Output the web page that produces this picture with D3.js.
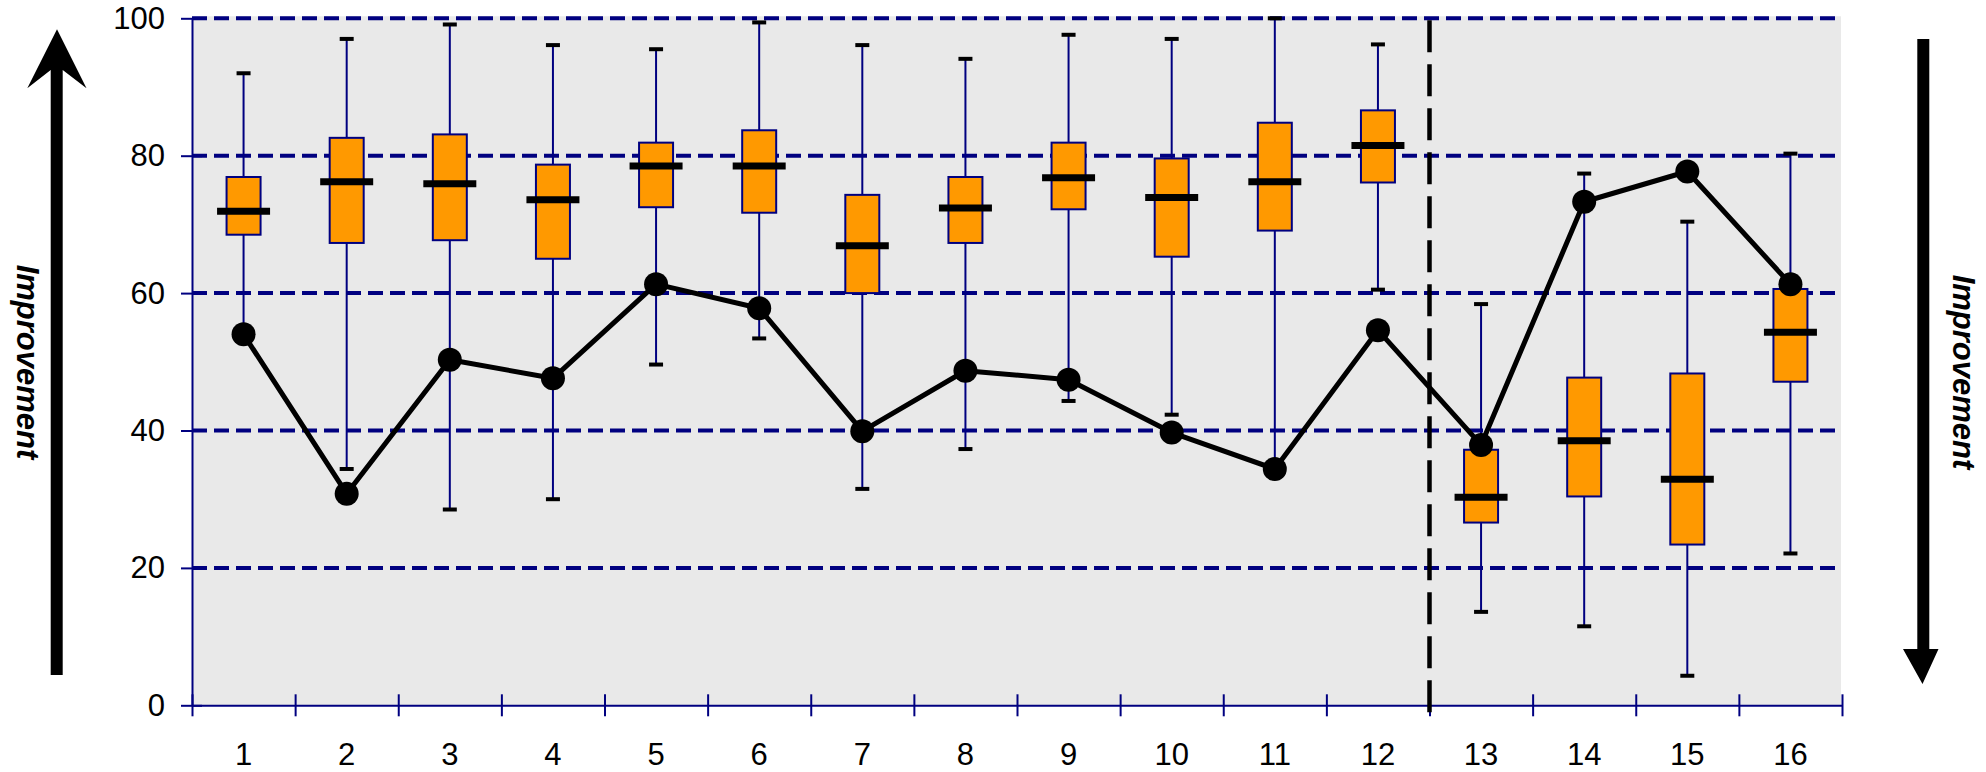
<!DOCTYPE html>
<html>
<head>
<meta charset="utf-8">
<script src="https://cdn.jsdelivr.net/npm/d3@7"></script>
<style>
  html, body { margin: 0; padding: 0; background: #ffffff; }
  svg { display: block; }
  text { font-family: "Liberation Sans", Arial, sans-serif; fill: #000000; }
</style>
</head>
<body>
<svg id="chart" width="1986" height="772"></svg>
<script>
// Groups along the x axis
const categories = ["1","2","3","4","5","6","7","8","9","10","11","12","13","14","15","16"];
// Box-plot statistics per group
const whiskerHigh = [92.0, 97.0, 99.1, 96.1, 95.5, 99.4, 96.1, 94.1, 97.6, 97.0, 100.0, 96.2, 58.4, 77.4, 70.4, 80.3];
const upperQuartile = [76.9, 82.6, 83.1, 78.7, 81.9, 83.7, 74.3, 76.9, 81.9, 79.6, 84.8, 86.6, 37.2, 47.7, 48.3, 60.6];
const medians = [71.9, 76.2, 75.9, 73.6, 78.5, 78.5, 66.9, 72.4, 76.8, 73.9, 76.2, 81.5, 30.3, 38.5, 32.9, 54.3];
const lowerQuartile = [68.5, 67.3, 67.7, 65.0, 72.5, 71.7, 60.0, 67.3, 72.2, 65.3, 69.1, 76.1, 26.6, 30.4, 23.4, 47.1];
const whiskerLow = [54.0, 34.4, 28.5, 30.0, 49.6, 53.4, 31.5, 37.3, 44.3, 42.3, 33.5, 60.5, 13.6, 11.5, 4.3, 22.1];
// Single observed value per group, joined by a line
const observed = [54.0, 30.8, 50.3, 47.6, 61.3, 57.8, 39.9, 48.7, 47.4, 39.7, 34.4, 54.6, 37.9, 73.3, 77.7, 61.3];
// Axis ticks
const yTicks = [0, 20, 40, 60, 80, 100];
// Index of the group boundary where the split line goes
const splitAfter = 12;

const NAVY = "#000080";
const ORANGE = "#FF9900";

const svg = d3.select("#chart");
const plotLeft = 192, plotRight = 1842, plotTop = 18.3, plotBottom = 705.3;

const x = d3.scaleBand().domain(categories).range([plotLeft, plotRight]).padding(0);
const xEdge = d3.scaleLinear().domain([0, categories.length]).range([plotLeft, plotRight]);
const y = d3.scaleLinear().domain([0, 100]).range([plotBottom, plotTop]);
const cx = c => x(c) + x.bandwidth() / 2;

// plot background
svg.append("rect")
  .attr("x", plotLeft + 1).attr("y", plotTop - 2)
  .attr("width", plotRight - plotLeft - 2).attr("height", plotBottom - plotTop + 2)
  .attr("fill", "#E9E9E9");

// horizontal dashed gridlines
svg.append("g").selectAll("line")
  .data(yTicks.filter(v => v > 0))
  .join("line")
  .attr("x1", plotLeft).attr("x2", plotRight)
  .attr("y1", d => y(d)).attr("y2", d => y(d))
  .attr("stroke", NAVY).attr("stroke-width", 4)
  .attr("stroke-dasharray", "15,7");

// y axis
const yAxis = svg.append("g")
  .attr("transform", `translate(${plotLeft},0)`)
  .call(d3.axisLeft(y).tickValues(yTicks).tickSize(11).tickPadding(16).tickSizeOuter(0));
yAxis.select(".domain").attr("stroke", NAVY).attr("stroke-width", 2);
yAxis.selectAll(".tick line").attr("stroke", NAVY).attr("stroke-width", 2).attr("x1", 10);
yAxis.selectAll(".tick text").attr("font-size", 31).attr("font-family", "Liberation Sans, Arial, sans-serif");

// x axis: boundary ticks
const xAxis = svg.append("g")
  .attr("transform", `translate(0,${plotBottom})`)
  .call(d3.axisBottom(xEdge).tickValues(d3.range(0, categories.length + 1)).tickSize(11).tickFormat("").tickSizeOuter(0));
xAxis.select(".domain").attr("stroke", NAVY).attr("stroke-width", 2);
xAxis.selectAll(".tick line").attr("stroke", NAVY).attr("stroke-width", 2).attr("y1", -11);

// x axis: category labels
const xLabels = svg.append("g")
  .attr("transform", `translate(0,${plotBottom})`)
  .call(d3.axisBottom(x).tickSize(0).tickPadding(38));
xLabels.select(".domain").remove();
xLabels.selectAll(".tick text").attr("font-size", 31).attr("font-family", "Liberation Sans, Arial, sans-serif");

// box plots
const boxes = categories.map((c, i) => ({
  c, hi: whiskerHigh[i], q3: upperQuartile[i], med: medians[i], q1: lowerQuartile[i], lo: whiskerLow[i]
}));
const boxW = 34, medW = 53, capW = 14;
const g = svg.append("g");

// whiskers
g.selectAll("line.wh-up").data(boxes).join("line")
  .attr("class", "wh-up")
  .attr("x1", d => cx(d.c)).attr("x2", d => cx(d.c))
  .attr("y1", d => y(d.hi)).attr("y2", d => y(d.q3))
  .attr("stroke", NAVY).attr("stroke-width", 2);
g.selectAll("line.wh-lo").data(boxes).join("line")
  .attr("class", "wh-lo")
  .attr("x1", d => cx(d.c)).attr("x2", d => cx(d.c))
  .attr("y1", d => y(d.q1)).attr("y2", d => y(d.lo))
  .attr("stroke", NAVY).attr("stroke-width", 2);
// whisker caps
g.selectAll("line.cap-hi").data(boxes).join("line")
  .attr("class", "cap-hi")
  .attr("x1", d => cx(d.c) - capW / 2).attr("x2", d => cx(d.c) + capW / 2)
  .attr("y1", d => y(d.hi)).attr("y2", d => y(d.hi))
  .attr("stroke", "#000").attr("stroke-width", 4);
g.selectAll("line.cap-lo").data(boxes).join("line")
  .attr("class", "cap-lo")
  .attr("x1", d => cx(d.c) - capW / 2).attr("x2", d => cx(d.c) + capW / 2)
  .attr("y1", d => y(d.lo)).attr("y2", d => y(d.lo))
  .attr("stroke", "#000").attr("stroke-width", 4);
// boxes
g.selectAll("rect.box").data(boxes).join("rect")
  .attr("class", "box")
  .attr("x", d => cx(d.c) - boxW / 2).attr("width", boxW)
  .attr("y", d => y(d.q3)).attr("height", d => y(d.q1) - y(d.q3))
  .attr("fill", ORANGE).attr("stroke", NAVY).attr("stroke-width", 2);
// medians
g.selectAll("line.med").data(boxes).join("line")
  .attr("class", "med")
  .attr("x1", d => cx(d.c) - medW / 2).attr("x2", d => cx(d.c) + medW / 2)
  .attr("y1", d => y(d.med)).attr("y2", d => y(d.med))
  .attr("stroke", "#000").attr("stroke-width", 7);

// vertical split line between groups 12 and 13
svg.append("line")
  .attr("x1", xEdge(splitAfter)).attr("x2", xEdge(splitAfter))
  .attr("y1", plotTop + 2).attr("y2", plotBottom + 10)
  .attr("stroke", "#000").attr("stroke-width", 4.5)
  .attr("stroke-dasharray", "32,12");

// observed line with markers
const pts = categories.map((c, i) => ({ c, v: observed[i] }));
svg.append("path")
  .datum(pts)
  .attr("fill", "none").attr("stroke", "#000").attr("stroke-width", 5)
  .attr("stroke-linejoin", "round")
  .attr("d", d3.line().x(d => cx(d.c)).y(d => y(d.v)));
svg.append("g").selectAll("circle").data(pts).join("circle")
  .attr("cx", d => cx(d.c)).attr("cy", d => y(d.v)).attr("r", 12)
  .attr("fill", "#000");

// direction arrows
svg.append("path")
  .attr("d", "M50.7,675 L50.7,70 L27.3,88.3 L57,29.3 L86.5,88.3 L62.7,70 L62.7,675 Z")
  .attr("fill", "#000");
svg.append("path")
  .attr("d", "M1917.3,39 L1929.3,39 L1929.3,649 L1938.5,649 L1922.5,684 L1903,649 L1917.3,649 Z")
  .attr("fill", "#000");

// direction labels
svg.append("text")
  .attr("transform", "translate(17,362) rotate(90)")
  .attr("text-anchor", "middle")
  .attr("font-size", 31).attr("font-weight", "bold").attr("font-style", "italic")
  .text("Improvement");
svg.append("text")
  .attr("transform", "translate(1953,372) rotate(90)")
  .attr("text-anchor", "middle")
  .attr("font-size", 31).attr("font-weight", "bold").attr("font-style", "italic")
  .text("Improvement");
</script>
</body>
</html>
